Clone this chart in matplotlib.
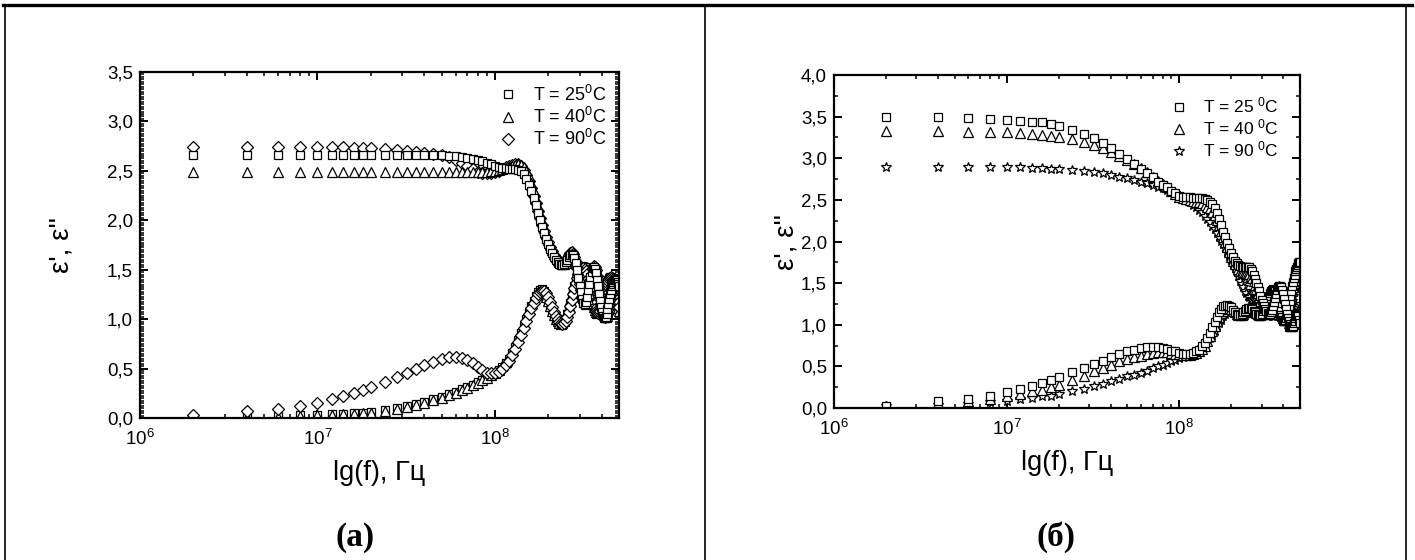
import numpy as np
import matplotlib
matplotlib.use("Agg")
import matplotlib.pyplot as plt
from matplotlib.ticker import MultipleLocator, LogLocator, FuncFormatter, NullFormatter
from matplotlib.lines import Line2D

plt.rcParams['font.family'] = ['Liberation Sans', 'DejaVu Sans']
plt.rcParams['mathtext.fontset'] = 'custom'
plt.rcParams['mathtext.rm'] = 'Liberation Sans'
plt.rcParams['mathtext.it'] = 'Liberation Sans:italic'

# frequency grid, MHz: 2..20 step 2, 24..40 step 4, 45..500 step 5
freq_mhz = np.concatenate([np.arange(2, 21, 2), np.arange(24, 41, 4), np.arange(45, 501, 5)])
freq = freq_mhz * 1e6

# ---- panel (a) ----  low part: 2..100 MHz (27 pts), high part: 105..500 MHz (80 pts)
a_eps1_25 = [2.66]*15 + \
    [2.66, 2.66, 2.65, 2.65, 2.64, 2.63, 2.62, 2.61, 2.60, 2.58, 2.57, 2.55] + \
    [2.54, 2.53, 2.53, 2.52, 2.52, 2.52, 2.51, 2.50, 2.47, 2.42,
     2.36, 2.30, 2.23, 2.15, 2.07, 2.00, 1.93, 1.87, 1.81, 1.76,
     1.71, 1.67, 1.63, 1.60, 1.58, 1.56, 1.55, 1.55, 1.56, 1.58,
     1.60, 1.63, 1.65, 1.66, 1.65, 1.62, 1.57, 1.50, 1.42, 1.34,
     1.27, 1.20, 1.16, 1.15, 1.17, 1.22, 1.29, 1.36, 1.43, 1.48,
     1.52, 1.53, 1.51, 1.47, 1.40, 1.33, 1.25, 1.18, 1.12, 1.07,
     1.03, 1.01, 1.01, 1.02, 1.05, 1.10, 1.15, 1.20, 1.25, 1.29,
     1.33, 1.36, 1.38, 1.40, 1.41, 1.41, 1.40, 1.38, 1.36, 1.33]
a_eps1_40 = [2.49]*15 + \
    [2.49, 2.49, 2.49, 2.49, 2.49, 2.49, 2.49, 2.49, 2.49, 2.49, 2.50, 2.50] + \
    [2.51, 2.52, 2.53, 2.54, 2.55, 2.56, 2.57, 2.56, 2.54, 2.50,
     2.45, 2.38, 2.30, 2.22, 2.14, 2.06, 1.99, 1.92, 1.86, 1.80,
     1.75, 1.70, 1.66, 1.63, 1.60, 1.58, 1.57, 1.56, 1.56, 1.57,
     1.59, 1.61, 1.63, 1.65, 1.65, 1.64, 1.61, 1.56, 1.50, 1.42,
     1.34, 1.27, 1.21, 1.17, 1.15, 1.16, 1.20, 1.26, 1.33, 1.40,
     1.46, 1.50, 1.52, 1.52, 1.48, 1.43, 1.36, 1.28, 1.21, 1.14,
     1.09, 1.05, 1.03, 1.02, 1.03, 1.06, 1.10, 1.15, 1.20, 1.25,
     1.29, 1.33, 1.36, 1.38, 1.39, 1.40, 1.40, 1.38, 1.36, 1.34]
a_eps1_90 = [2.74, 2.74, 2.74, 2.74, 2.74, 2.74, 2.74, 2.73, 2.73, 2.73] + \
    [2.72, 2.71, 2.70, 2.69, 2.68] + \
    [2.67, 2.66, 2.64, 2.61, 2.58, 2.55, 2.52, 2.49, 2.48, 2.48, 2.48, 2.49] + \
    [2.50, 2.52, 2.54, 2.55, 2.56, 2.57, 2.57, 2.55, 2.51, 2.46,
     2.40, 2.33, 2.25, 2.17, 2.09, 2.02, 1.95, 1.89, 1.83, 1.78,
     1.73, 1.69, 1.65, 1.62, 1.60, 1.58, 1.57, 1.57, 1.58, 1.60,
     1.62, 1.65, 1.67, 1.68, 1.66, 1.63, 1.58, 1.52, 1.44, 1.36,
     1.29, 1.22, 1.18, 1.16, 1.17, 1.20, 1.26, 1.33, 1.40, 1.46,
     1.51, 1.54, 1.53, 1.50, 1.44, 1.37, 1.29, 1.22, 1.15, 1.10,
     1.06, 1.03, 1.02, 1.03, 1.05, 1.09, 1.14, 1.19, 1.24, 1.29,
     1.33, 1.36, 1.38, 1.40, 1.40, 1.40, 1.38, 1.36, 1.33, 1.30]

a_eps2_25 = [0.0, 0.01, 0.02, 0.03, 0.035, 0.04, 0.045, 0.05, 0.055, 0.06] + \
    [0.08, 0.10, 0.12, 0.14, 0.16] + \
    [0.19, 0.21, 0.24, 0.26, 0.29, 0.31, 0.33, 0.36, 0.38, 0.41, 0.44, 0.46] + \
    [0.49, 0.52, 0.56, 0.60, 0.66, 0.72, 0.79, 0.86, 0.93, 1.00,
     1.07, 1.13, 1.18, 1.23, 1.27, 1.29, 1.30, 1.28, 1.25, 1.20,
     1.15, 1.10, 1.05, 1.01, 0.98, 0.96, 0.95, 0.95, 0.97, 1.00,
     1.05, 1.10, 1.16, 1.22, 1.28, 1.34, 1.39, 1.44, 1.47, 1.50,
     1.52, 1.53, 1.54, 1.53, 1.51, 1.48, 1.43, 1.38, 1.32, 1.26,
     1.20, 1.15, 1.11, 1.08, 1.07, 1.06, 1.07, 1.09, 1.12, 1.16,
     1.20, 1.24, 1.28, 1.32, 1.35, 1.38, 1.40, 1.42, 1.43, 1.43,
     1.42, 1.41, 1.38, 1.35, 1.31, 1.27, 1.22, 1.18, 1.14, 1.10]
a_eps2_40 = [0.0, 0.01, 0.015, 0.025, 0.03, 0.035, 0.04, 0.045, 0.05, 0.055] + \
    [0.07, 0.09, 0.11, 0.13, 0.15] + \
    [0.18, 0.20, 0.23, 0.25, 0.28, 0.30, 0.33, 0.35, 0.38, 0.40, 0.43, 0.46] + \
    [0.49, 0.53, 0.57, 0.62, 0.68, 0.74, 0.81, 0.88, 0.95, 1.02,
     1.09, 1.15, 1.20, 1.24, 1.27, 1.28, 1.28, 1.26, 1.22, 1.18,
     1.13, 1.08, 1.04, 1.00, 0.98, 0.96, 0.95, 0.96, 0.98, 1.02,
     1.07, 1.13, 1.19, 1.25, 1.31, 1.37, 1.42, 1.46, 1.49, 1.51,
     1.52, 1.52, 1.51, 1.50, 1.47, 1.44, 1.39, 1.33, 1.27, 1.21,
     1.16, 1.12, 1.09, 1.07, 1.06, 1.07, 1.09, 1.11, 1.15, 1.19,
     1.23, 1.27, 1.31, 1.34, 1.37, 1.39, 1.41, 1.42, 1.42, 1.42,
     1.40, 1.38, 1.35, 1.31, 1.27, 1.23, 1.19, 1.15, 1.11, 1.08]
a_eps2_90 = [0.03, 0.07, 0.09, 0.12, 0.15, 0.19, 0.22, 0.25, 0.28, 0.31] + \
    [0.36, 0.41, 0.45, 0.50, 0.54] + \
    [0.57, 0.60, 0.62, 0.62, 0.61, 0.59, 0.56, 0.52, 0.49, 0.46, 0.45, 0.46] + \
    [0.47, 0.50, 0.54, 0.58, 0.64, 0.70, 0.77, 0.84, 0.91, 0.98,
     1.05, 1.11, 1.16, 1.21, 1.25, 1.27, 1.28, 1.28, 1.26, 1.22,
     1.17, 1.12, 1.07, 1.03, 1.00, 0.97, 0.96, 0.95, 0.96, 0.98,
     1.02, 1.07, 1.13, 1.19, 1.25, 1.31, 1.37, 1.42, 1.46, 1.49,
     1.51, 1.52, 1.52, 1.51, 1.49, 1.46, 1.41, 1.36, 1.30, 1.24,
     1.19, 1.14, 1.10, 1.08, 1.07, 1.06, 1.07, 1.08, 1.11, 1.14,
     1.18, 1.22, 1.26, 1.30, 1.34, 1.37, 1.39, 1.41, 1.42, 1.43,
     1.42, 1.41, 1.39, 1.36, 1.33, 1.29, 1.25, 1.20, 1.16, 1.12]

# ---- panel (б) ----
b_eps1_25 = [3.49, 3.49, 3.48, 3.47, 3.46, 3.45, 3.44, 3.43, 3.41, 3.39] + \
    [3.34, 3.29, 3.24, 3.18, 3.12] + \
    [3.05, 2.99, 2.93, 2.87, 2.82, 2.77, 2.72, 2.68, 2.65, 2.61, 2.58, 2.55] + \
    [2.54, 2.53, 2.53, 2.52, 2.52, 2.52, 2.52, 2.51, 2.50, 2.48,
     2.45, 2.40, 2.34, 2.27, 2.20, 2.12, 2.05, 1.98, 1.92, 1.86,
     1.81, 1.77, 1.74, 1.72, 1.71, 1.70, 1.70, 1.70, 1.70, 1.70,
     1.69, 1.67, 1.64, 1.60, 1.55, 1.50, 1.45, 1.40, 1.35, 1.30,
     1.26, 1.22, 1.19, 1.16, 1.14, 1.13, 1.13, 1.15, 1.18, 1.22,
     1.27, 1.32, 1.37, 1.42, 1.45, 1.47, 1.47, 1.45, 1.42, 1.37,
     1.31, 1.25, 1.19, 1.13, 1.08, 1.04, 1.01, 0.99, 0.98, 0.98,
     0.99, 1.02, 1.05, 1.08, 1.10, 1.12, 1.12, 1.10, 1.06, 1.02]
b_eps1_40 = [3.33, 3.33, 3.32, 3.32, 3.31, 3.30, 3.29, 3.28, 3.27, 3.26] + \
    [3.23, 3.20, 3.16, 3.12, 3.08] + \
    [3.03, 2.98, 2.93, 2.88, 2.83, 2.78, 2.73, 2.69, 2.65, 2.61, 2.57, 2.54] + \
    [2.52, 2.51, 2.50, 2.49, 2.48, 2.47, 2.46, 2.44, 2.42, 2.40,
     2.36, 2.32, 2.26, 2.20, 2.13, 2.06, 1.99, 1.93, 1.87, 1.82,
     1.77, 1.73, 1.70, 1.67, 1.65, 1.64, 1.63, 1.63, 1.62, 1.62,
     1.61, 1.59, 1.56, 1.52, 1.48, 1.43, 1.38, 1.33, 1.29, 1.25,
     1.21, 1.18, 1.16, 1.14, 1.13, 1.13, 1.15, 1.17, 1.21, 1.25,
     1.30, 1.35, 1.39, 1.43, 1.45, 1.46, 1.45, 1.42, 1.38, 1.33,
     1.27, 1.21, 1.15, 1.10, 1.06, 1.02, 1.00, 0.98, 0.98, 0.99,
     1.01, 1.04, 1.07, 1.10, 1.12, 1.13, 1.12, 1.10, 1.07, 1.03]
b_eps1_90 = [2.90, 2.90, 2.89, 2.89, 2.89, 2.89, 2.88, 2.88, 2.87, 2.87] + \
    [2.86, 2.85, 2.83, 2.82, 2.80] + \
    [2.78, 2.76, 2.74, 2.72, 2.70, 2.68, 2.66, 2.64, 2.62, 2.60, 2.58, 2.55] + \
    [2.53, 2.50, 2.47, 2.44, 2.41, 2.38, 2.35, 2.31, 2.27, 2.23,
     2.19, 2.15, 2.10, 2.06, 2.01, 1.97, 1.92, 1.88, 1.83, 1.78,
     1.73, 1.68, 1.63, 1.58, 1.53, 1.49, 1.45, 1.41, 1.38, 1.35,
     1.33, 1.31, 1.30, 1.30, 1.30, 1.31, 1.32, 1.33, 1.34, 1.34,
     1.33, 1.32, 1.29, 1.26, 1.22, 1.18, 1.15, 1.12, 1.11, 1.10,
     1.11, 1.14, 1.18, 1.22, 1.27, 1.32, 1.36, 1.40, 1.42, 1.42,
     1.40, 1.37, 1.33, 1.28, 1.22, 1.17, 1.12, 1.08, 1.05, 1.02,
     1.01, 1.00, 1.01, 1.04, 1.08, 1.12, 1.16, 1.20, 1.23, 1.25]

b_eps2_25 = [0.03, 0.08, 0.11, 0.15, 0.19, 0.23, 0.27, 0.30, 0.34, 0.37] + \
    [0.43, 0.48, 0.53, 0.57, 0.61] + \
    [0.65, 0.68, 0.70, 0.72, 0.73, 0.73, 0.73, 0.72, 0.71, 0.69, 0.68, 0.66] + \
    [0.65, 0.65, 0.65, 0.66, 0.68, 0.70, 0.74, 0.78, 0.84, 0.90,
     0.97, 1.03, 1.09, 1.15, 1.19, 1.22, 1.23, 1.24, 1.23, 1.21,
     1.18, 1.15, 1.13, 1.12, 1.12, 1.13, 1.15, 1.17, 1.19, 1.20,
     1.20, 1.20, 1.19, 1.17, 1.15, 1.13, 1.12, 1.11, 1.12, 1.13,
     1.16, 1.19, 1.23, 1.27, 1.31, 1.35, 1.38, 1.41, 1.42, 1.43,
     1.42, 1.40, 1.36, 1.32, 1.27, 1.22, 1.17, 1.12, 1.09, 1.06,
     1.05, 1.06, 1.08, 1.12, 1.17, 1.22, 1.28, 1.34, 1.40, 1.46,
     1.51, 1.56, 1.60, 1.64, 1.67, 1.70, 1.72, 1.74, 1.75, 1.76]
b_eps2_40 = [0.02, 0.06, 0.09, 0.11, 0.14, 0.17, 0.20, 0.22, 0.25, 0.28] + \
    [0.34, 0.39, 0.44, 0.48, 0.52] + \
    [0.56, 0.59, 0.61, 0.63, 0.65, 0.66, 0.67, 0.67, 0.67, 0.66, 0.65, 0.65] + \
    [0.64, 0.64, 0.64, 0.65, 0.66, 0.68, 0.71, 0.75, 0.80, 0.86,
     0.92, 0.98, 1.04, 1.09, 1.14, 1.17, 1.19, 1.20, 1.20, 1.19,
     1.17, 1.15, 1.13, 1.12, 1.12, 1.12, 1.13, 1.15, 1.17, 1.18,
     1.19, 1.19, 1.18, 1.17, 1.15, 1.14, 1.13, 1.12, 1.12, 1.13,
     1.15, 1.18, 1.21, 1.25, 1.29, 1.33, 1.36, 1.39, 1.41, 1.42,
     1.41, 1.40, 1.37, 1.34, 1.30, 1.25, 1.20, 1.15, 1.11, 1.08,
     1.06, 1.06, 1.07, 1.10, 1.14, 1.18, 1.23, 1.29, 1.34, 1.40,
     1.45, 1.50, 1.54, 1.58, 1.61, 1.64, 1.66, 1.68, 1.69, 1.70]
b_eps2_90 = [0.02, 0.04, 0.05, 0.07, 0.09, 0.11, 0.12, 0.14, 0.15, 0.17] + \
    [0.20, 0.23, 0.26, 0.29, 0.32] + \
    [0.35, 0.38, 0.40, 0.42, 0.45, 0.48, 0.50, 0.52, 0.54, 0.56, 0.58, 0.60] + \
    [0.61, 0.63, 0.64, 0.66, 0.68, 0.70, 0.73, 0.76, 0.80, 0.84,
     0.88, 0.93, 0.98, 1.02, 1.06, 1.10, 1.13, 1.15, 1.16, 1.17,
     1.17, 1.16, 1.15, 1.14, 1.13, 1.13, 1.13, 1.14, 1.15, 1.17,
     1.19, 1.21, 1.23, 1.24, 1.24, 1.24, 1.23, 1.21, 1.19, 1.17,
     1.15, 1.14, 1.14, 1.15, 1.17, 1.20, 1.24, 1.28, 1.32, 1.36,
     1.39, 1.42, 1.43, 1.44, 1.43, 1.40, 1.36, 1.32, 1.27, 1.22,
     1.18, 1.14, 1.11, 1.10, 1.10, 1.12, 1.15, 1.19, 1.24, 1.29,
     1.35, 1.40, 1.45, 1.50, 1.54, 1.58, 1.61, 1.64, 1.66, 1.68]

labels_a = ["T = 25$^0$C", "T = 40$^0$C", "T = 90$^0$C"]
labels_b = ["T = 25 $^0$C", "T = 40 $^0$C", "T = 90 $^0$C"]


def comma(v, pos):
    return f"{v:.1f}".replace('.', ',')


fig = plt.figure(figsize=(14.15, 5.6), dpi=100)

ax1 = fig.add_axes([0.0989, 0.2536, 0.3386, 0.6179])
ax2 = fig.add_axes([0.5894, 0.2714, 0.3293, 0.5946])

mk = dict(linestyle='none', mfc='white', mec='black', mew=0.9)

# panel a
series_a = [(a_eps1_25, a_eps2_25, 's', 5.4),
            (a_eps1_40, a_eps2_40, '^', 6.5),
            (a_eps1_90, a_eps2_90, 'D', 5.8)]
for (e1, e2, m, s) in series_a:
    ax1.plot(freq, e2, marker=m, ms=s, **mk)
for (e1, e2, m, s) in series_a[::-1]:
    ax1.plot(freq, e1, marker=m, ms=s, **mk)

# panel b
series_b = [(b_eps1_25, b_eps2_25, 's', 5.4),
            (b_eps1_40, b_eps2_40, '^', 6.5),
            (b_eps1_90, b_eps2_90, '*', 7.5)]
for (e1, e2, m, s) in series_b[::-1]:
    ax2.plot(freq, e2, marker=m, ms=s, **mk)
    ax2.plot(freq, e1, marker=m, ms=s, **mk)

for ax, ymax, minor, series, labels, lab_x, leg_fs, leg_pad in [
        (ax1, 3.5, 0.025, series_a, labels_a, -0.136, 13, 0.3),
        (ax2, 4.0, 0.25, series_b, labels_b, -0.075, 12.5, 0.8)]:
    ax.set_xscale('log')
    ax.set_xlim(1e6, 5e8)
    ax.set_ylim(0, ymax)
    ax.yaxis.set_major_locator(MultipleLocator(0.5))
    ax.yaxis.set_minor_locator(MultipleLocator(minor))
    ax.yaxis.set_major_formatter(FuncFormatter(comma))
    ax.xaxis.set_major_locator(LogLocator(base=10))
    ax.xaxis.set_minor_locator(LogLocator(base=10, subs=np.arange(2, 10)))
    ax.xaxis.set_minor_formatter(NullFormatter())
    ax.tick_params(which='both', direction='in', top=True, right=True,
                   labelsize=13.5, colors='black')
    ax.tick_params(which='major', length=6, width=1.4)
    ax.tick_params(axis='y', which='major', pad=5)
    ax.tick_params(axis='x', which='major', pad=8)
    ax.tick_params(which='minor', length=3, width=1.1)
    for sp in ax.spines.values():
        sp.set_linewidth(1.6)
    ax.set_xlabel("lg(f), Гц", fontsize=19.5, labelpad=8)
    ax.set_ylabel("ε', ε''", fontsize=20)
    ax.yaxis.set_label_coords(lab_x, 0.5)
    handles = [Line2D([], [], marker=m, ms=s, **mk) for (e1, e2, m, s) in series]
    ax.legend(handles, labels, loc='upper right', frameon=False, fontsize=leg_fs,
              handlelength=1.0, handletextpad=0.9, labelspacing=0.12,
              borderaxespad=leg_pad)

fig.text(0.251, 0.04, "(a)", ha='center', va='center', fontsize=24,
         fontweight='bold', family='Liberation Serif')
fig.text(0.746, 0.04, "(б)", ha='center', va='center', fontsize=24,
         fontweight='bold', family='Liberation Serif')

# table frame
fig.add_artist(Line2D([0.002, 0.998], [0.991, 0.991], color='black', lw=2.4))
for xv in [0.0035, 0.4985, 0.9937]:
    fig.add_artist(Line2D([xv, xv], [0.0, 0.991], color='black', lw=1.2))

fig.savefig("out.png", dpi=100)
